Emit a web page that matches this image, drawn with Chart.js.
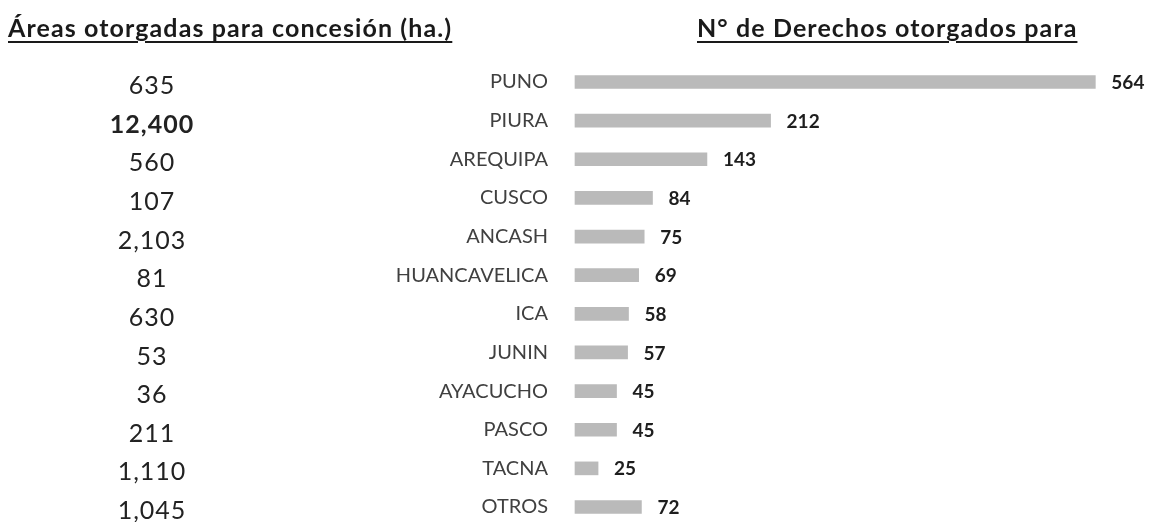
<!DOCTYPE html>
<html>
<head>
<meta charset="utf-8">
<script src="https://cdn.jsdelivr.net/npm/chart.js@4/dist/chart.umd.min.js"></script>
<style>
  html, body { margin: 0; padding: 0; background: #ffffff; }
  #wrap { position: relative; width: 1154px; height: 522px; overflow: hidden; }
  #c { position: absolute; left: 0; top: 0; }
  .ttl { position: absolute; font-family: Lato, "Open Sans", sans-serif; font-weight: bold;
         font-size: 25px; letter-spacing: 1.1px; color: #1a1a1a; text-decoration: underline; text-decoration-thickness: 2px;
         text-underline-offset: 4px; white-space: nowrap; line-height: 1; }
</style>
</head>
<body>
<div id="wrap">
  <canvas id="c" width="1154" height="522"></canvas>
  <div class="ttl" id="t1" style="left:8px; top:15px;">Áreas otorgadas para concesión (ha.)</div>
  <div class="ttl" id="t2" style="left:697px; top:15px;">N° de Derechos otorgados para</div>
</div>
<script>
const categories = ['PUNO','PIURA','AREQUIPA','CUSCO','ANCASH','HUANCAVELICA','ICA','JUNIN','AYACUCHO','PASCO','TACNA','OTROS'];
const derechos = [564, 212, 143, 84, 75, 69, 58, 57, 45, 45, 25, 72];
const areasHa = [635, 12400, 560, 107, 2103, 81, 630, 53, 36, 211, 1110, 1045];
const areasBold = [false, true, false, false, false, false, false, false, false, false, false, false];

const fmt = new Intl.NumberFormat('en-US');

const labelsPlugin = {
  id: 'sideLabels',
  afterDatasetsDraw(chart) {
    const ctx = chart.ctx;
    const ys = chart.scales.y, xs = chart.scales.x;
    ctx.save();
    ctx.textBaseline = 'middle';
    // value labels after bars
    ctx.fillStyle = '#1e1e1e';
    ctx.font = 'bold 19px Lato, "Open Sans", sans-serif';
    ctx.textAlign = 'left';
    derechos.forEach((v, i) => {
      ctx.fillText(String(v), xs.getPixelForValue(v) + 16, ys.getPixelForValue(i) + 1);
    });
    // left column: areas
    ctx.textAlign = 'center';
    ctx.fillStyle = '#222222';
    try { ctx.letterSpacing = '1px'; } catch (e) {}
    areasHa.forEach((v, i) => {
      ctx.font = (areasBold[i] ? 'bold ' : '') + '25px Lato, "Open Sans", sans-serif';
      ctx.fillText(fmt.format(v), 152, ys.getPixelForValue(i) + 4);
    });
    ctx.restore();
  }
};

new Chart(document.getElementById('c'), {
  type: 'bar',
  data: {
    labels: categories,
    datasets: [{
      data: derechos,
      backgroundColor: '#bababa',
      borderWidth: 0,
      barThickness: 13,
      clip: false
    }]
  },
  options: {
    indexAxis: 'y',
    responsive: false,
    animation: false,
    events: [],
    layout: { padding: { top: 82, bottom: 15, left: 0, right: 7 } },
    plugins: { legend: { display: false }, tooltip: { enabled: false }, title: { display: false } },
    scales: {
      x: { display: false, min: 0, max: 620 },
      y: {
        offset: false,
        grid: { display: false, drawTicks: false },
        border: { display: false },
        ticks: { color: '#404040', padding: 27, font: { family: 'Lato, "Open Sans", sans-serif', size: 20 } },
        afterFit(scale) { scale.width = 575; scale.paddingTop = 0; scale.paddingBottom = 0; }
      }
    }
  },
  plugins: [labelsPlugin]
});
</script>
</body>
</html>
